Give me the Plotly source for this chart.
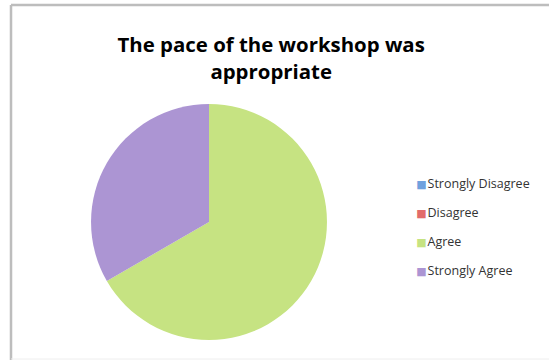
import plotly.graph_objects as go

# Survey responses
categories = ["Strongly Disagree", "Disagree", "Agree", "Strongly Agree"]
responses = [0, 0, 12, 6]
colors = ["#6fa1de", "#e26b6b", "#c6e382", "#ac95d3"]
title_text = "The pace of the workshop was<br>appropriate"

fig = go.Figure()

fig.add_trace(go.Pie(
    labels=categories,
    values=responses,
    sort=False,
    direction="clockwise",
    rotation=0,
    textinfo="none",
    hoverinfo="label+value+percent",
    marker=dict(colors=colors, line=dict(width=0)),
    domain=dict(x=[0.1658, 0.5956], y=[0.0556, 0.711]),
    showlegend=False,
))

# Legend entries: small coloured square glyph right next to the label
for i, (cat, col) in enumerate(zip(categories, colors)):
    fig.add_trace(go.Scatter(
        x=[None], y=[None], mode="markers",
        name=(f"<span style='color:{col};font-size:11px;font-family:DejaVu Sans'>■</span>"
              f"<span style='font-size:3px'> </span>{cat}"),
        legendgroup=f"g{i}",
        marker=dict(symbol="square", size=1, color="rgba(0,0,0,0)"),
    ))

fig.update_layout(
    width=549, height=360,
    margin=dict(l=0, r=0, t=0, b=0),
    paper_bgcolor="white",
    plot_bgcolor="white",
    xaxis=dict(visible=False),
    yaxis=dict(visible=False),
    title=dict(
        text=title_text,
        x=0.494, xanchor="center",
        y=0.855, yanchor="middle",
        font=dict(family="Open Sans", size=20.4, color="#000000", weight="bold"),
    ),
    legend=dict(
        x=0.6855, y=0.5333, xanchor="left", yanchor="top",
        font=dict(family="Open Sans", size=12.5, color="#333333"),
        tracegroupgap=10,
        itemwidth=30,
        bgcolor="rgba(0,0,0,0)",
    ),
    shapes=[
        dict(type="line", xref="paper", yref="paper",
             x0=11 / 549, x1=11 / 549, y0=0, y1=1 - 5 / 360,
             line=dict(color="#bdbdbd", width=2.5)),
        dict(type="line", xref="paper", yref="paper",
             x0=11 / 549, x1=1, y0=1 - 5 / 360, y1=1 - 5 / 360,
             line=dict(color="#bdbdbd", width=2.5)),
        dict(type="line", xref="paper", yref="paper",
             x0=11 / 549, x1=1, y0=1 / 360, y1=1 / 360,
             line=dict(color="#eeeeee", width=1)),
    ],
)

fig.write_html("out.html")
